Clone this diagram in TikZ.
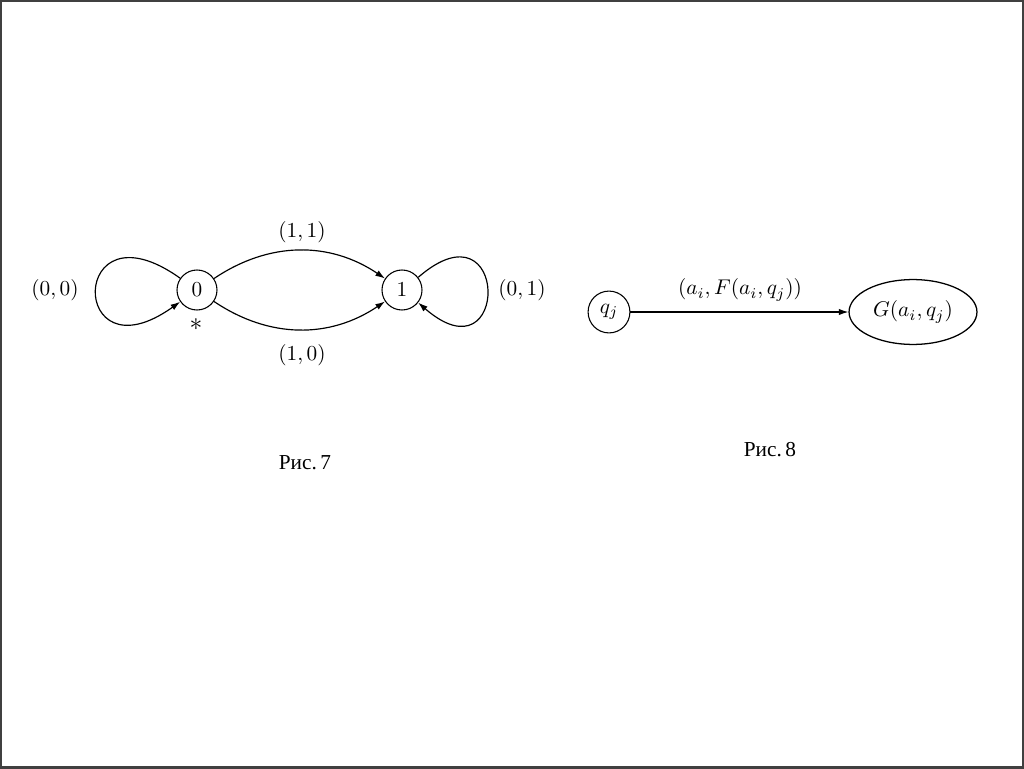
\documentclass[tikz,border=0pt]{standalone}
\usepackage{fontspec}
\newfontfamily\cyrfont{Liberation Serif}
\usetikzlibrary{arrows.meta,shapes.geometric}
\begin{document}
\begin{tikzpicture}[x=0.0165cm,y=0.0165cm,
  state/.style={draw,circle,inner sep=0pt,minimum size=0.66cm,line width=0.5pt},
  bigstate/.style={draw,ellipse,inner sep=0pt,minimum width=2.11cm,minimum height=1.07cm,line width=0.6pt},
  edge/.style={line width=0.55pt,-{Latex[length=4.5pt,width=3pt]}},
  lbl/.style={inner sep=0pt}]
\useasboundingbox (0,0) rectangle (1024,768);
\draw[line width=1.2pt,black!75] (0.6,0.6) rectangle (1023.4,767.4);
% Fig 7
\node[state] (n0) at (197,478) {$0$};
\node[state] (n1) at (402,478) {$1$};
\draw[edge] (n0.145) .. controls +(-112,80) and +(-112,-80) .. (n0.215);
\draw[edge] (n1.38) .. controls +(92,80) and +(92,-80) .. (n1.-38);
\draw[edge] (n0) to[out=34,in=146] (n1);
\draw[edge] (n0) to[out=-34,in=-146] (n1);
\node[lbl] (l00) at (55,478) {$(0,0)$};
\node[lbl] (l01) at (522,478) {$(0,1)$};
\node[lbl] (l11) at (302,536) {$(1,1)$};
\node[lbl] (l10) at (302,413) {$(1,0)$};
\node[lbl] (star) at (196,443) {\large$*$};
\node[lbl] (cap7) at (305,305) {\cyrfont Рис.\,7};
% Fig 8
\node[state,minimum size=0.69cm] (q) at (609,456) {$q_j$};
\node[bigstate] (g) at (913,456) {$G(a_i,q_j)$};
\draw[edge] (q) -- (g);
\node[lbl] (lf) at (740,478) {$(a_i,F(a_i,q_j))$};
\node[lbl] (cap8) at (770,318) {\cyrfont Рис.\,8};
\end{tikzpicture}
\end{document}
